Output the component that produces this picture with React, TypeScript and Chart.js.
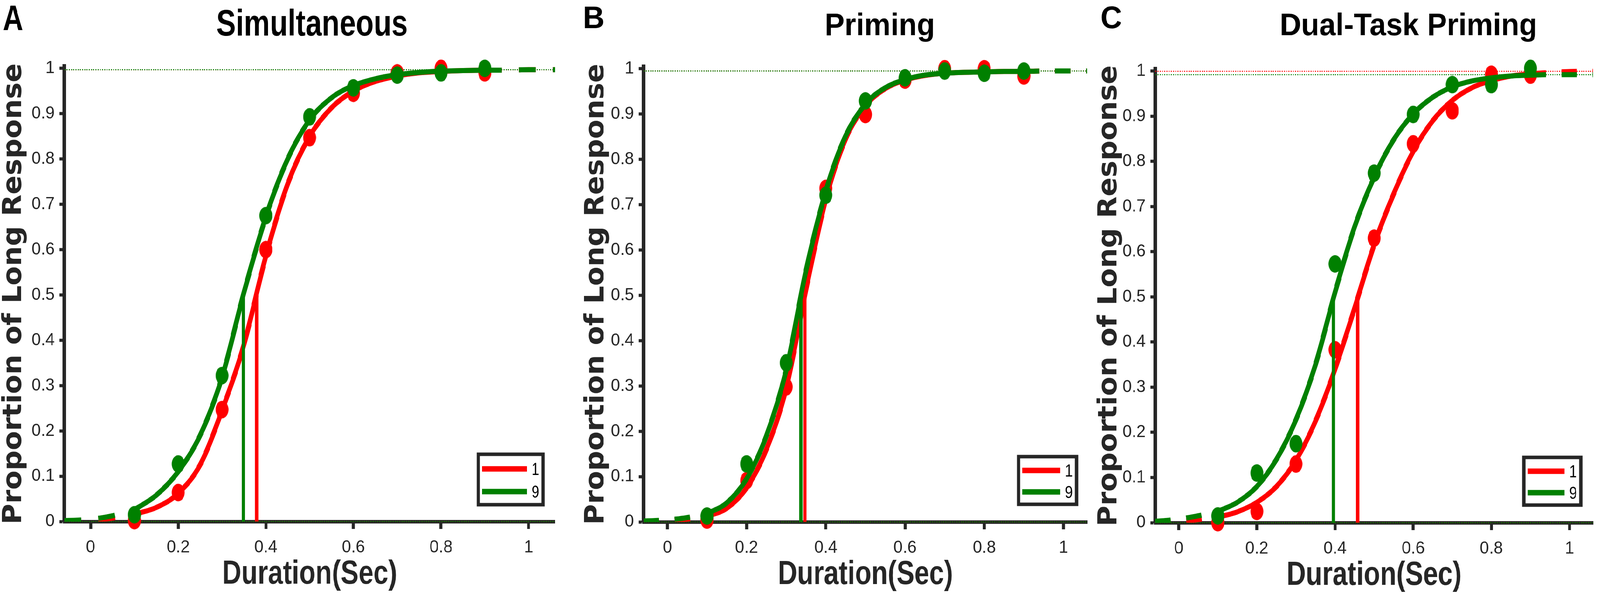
import React, { useEffect, useRef } from "react";
import { Chart, registerables } from "chart.js";

Chart.register(...registerables);

const SANS = "'Liberation Sans', Arial, Helvetica, sans-serif";
const WIDE = "'DejaVu Sans', Verdana, sans-serif";
const RED = "#ff0000";
const GREEN = "#008000";
const AXIS = "#262626";
const PAGE_W = 4328;
const CANVAS_H = 1545;

// ---- shared axes / labels ----
const xLimits = [-0.06, 1.06];
const yLimits = [0, 1.005];
const xTickValues = [0, 0.2, 0.4, 0.6, 0.8, 1];
const xTickLabels = ["0", "0.2", "0.4", "0.6", "0.8", "1"];
const yTickValues = [0, 0.1, 0.2, 0.3, 0.4, 0.5, 0.6, 0.7, 0.8, 0.9, 1];
const yTickLabels = ["0", "0.1", "0.2", "0.3", "0.4", "0.5", "0.6", "0.7", "0.8", "0.9", "1"];
const legendLabels = ["1", "9"];
const panelLetters = ["A", "B", "C"];
const panelTitles = ["Simultaneous", "Priming", "Dual-Task Priming"];
const xAxisTitle = "Duration(Sec)";
const yAxisTitle = "Proportion of Long Response";

// x positions
const durations = [0.1, 0.2, 0.3, 0.4, 0.5, 0.6, 0.7, 0.8, 0.9];
const fitX = [0.1, 0.15, 0.2, 0.25, 0.3, 0.35, 0.4, 0.45, 0.5, 0.55, 0.6, 0.65, 0.7, 0.75, 0.8, 0.85, 0.9];
const lowX = [-0.06, -0.03, 0, 0.03, 0.06, 0.1];
const highX = [0.9, 0.95, 1.0, 1.06];
const pseSpan = [0, 0.5];
const floorLevel = [0, 0];

// ---- A: Simultaneous ----
const simRedObs = [0.002, 0.064, 0.247, 0.6, 0.847, 0.945, 0.99, 1.0, 0.99];
const simGreenObs = [0.015, 0.127, 0.322, 0.675, 0.893, 0.957, 0.985, 0.99, 1.0];
const simRedFit = [0.016, 0.031, 0.062, 0.125, 0.245, 0.39, 0.585, 0.745, 0.85, 0.913, 0.95, 0.971, 0.983, 0.99, 0.993, 0.995, 0.996];
const simGreenFit = [0.026, 0.058, 0.11, 0.19, 0.318, 0.505, 0.672, 0.8, 0.886, 0.935, 0.962, 0.977, 0.986, 0.991, 0.994, 0.995, 0.996];
const simRedLow = [0.001, 0.002, 0.003, 0.005, 0.009, 0.016];
const simGreenLow = [0.002, 0.003, 0.005, 0.009, 0.015, 0.026];
const simRedHigh = [0.996, 0.996, 0.997, 0.997];
const simGreenHigh = [0.996, 0.996, 0.997, 0.997];
const simPse = [0.379, 0.349];
const simTop = [0.997, 0.997];

// ---- B: Priming ----
const primRedObs = [0.004, 0.091, 0.298, 0.736, 0.899, 0.975, 1.0, 1.0, 0.984];
const primGreenObs = [0.013, 0.128, 0.351, 0.721, 0.929, 0.98, 0.995, 0.99, 0.995];
const primRedFit = [0.012, 0.03, 0.075, 0.16, 0.295, 0.513, 0.712, 0.845, 0.918, 0.956, 0.975, 0.985, 0.99, 0.992, 0.993, 0.994, 0.994];
const primGreenFit = [0.018, 0.042, 0.095, 0.19, 0.335, 0.555, 0.73, 0.852, 0.922, 0.958, 0.976, 0.986, 0.99, 0.992, 0.993, 0.994, 0.994];
const primRedLow = [0.001, 0.002, 0.003, 0.005, 0.007, 0.012];
const primGreenLow = [0.002, 0.003, 0.005, 0.007, 0.011, 0.018];
const primRedHigh = [0.994, 0.995, 0.995, 0.995];
const primGreenHigh = [0.994, 0.995, 0.995, 0.995];
const primPse = [0.347, 0.337];
const primTop = [0.995, 0.995];

// ---- C: Dual-Task Priming ----
const dualRedObs = [0.0, 0.025, 0.13, 0.383, 0.63, 0.839, 0.912, 0.993, 0.991];
const dualGreenObs = [0.015, 0.11, 0.175, 0.573, 0.774, 0.904, 0.97, 0.97, 1.006];
const dualRedFit = [0.012, 0.024, 0.045, 0.08, 0.138, 0.225, 0.34, 0.475, 0.615, 0.728, 0.822, 0.89, 0.935, 0.963, 0.979, 0.989, 0.994];
const dualGreenFit = [0.025, 0.045, 0.08, 0.14, 0.228, 0.35, 0.51, 0.655, 0.765, 0.848, 0.905, 0.942, 0.965, 0.978, 0.985, 0.989, 0.991];
const dualRedLow = [0.001, 0.002, 0.003, 0.005, 0.008, 0.012];
const dualGreenLow = [0.003, 0.005, 0.008, 0.012, 0.017, 0.025];
const dualRedHigh = [0.994, 0.997, 0.999, 0.9995];
const dualGreenHigh = [0.991, 0.992, 0.992, 0.992];
const dualPse = [0.458, 0.396];
const dualTop = [0.9995, 0.992];

interface Series {
  redObs: number[];
  greenObs: number[];
  redFit: number[];
  greenFit: number[];
  redLow: number[];
  greenLow: number[];
  redHigh: number[];
  greenHigh: number[];
  pse: number[];
  top: number[];
}

interface TextStyle {
  font: string;
  squeeze: number; // horizontal scale, < 1 gives a narrow face
}

interface PanelSpec {
  idx: number;
  left: number;
  width: number;
  yAxisWidth: number;
  plotRight: number;
  plotTop: number;
  plotBottom: number;
  yTitlePad: number;
  letterX: number;
  letterY: number;
  letterStyle: TextStyle;
  titleX: number;
  titleY: number;
  titleStyle: TextStyle;
  legend: { w: number; h: number; offR: number; offB: number };
  dash: number[];
  series: Series;
}

const narrowBold = (size: number): TextStyle => ({ font: `bold ${size}px ${SANS}`, squeeze: 0.84 });
const plainBold = (size: number): TextStyle => ({ font: `bold ${size}px ${SANS}`, squeeze: 1 });

const panels: PanelSpec[] = [
  {
    idx: 0, left: 0, width: 1540, yAxisWidth: 174, plotRight: 1501, plotTop: 169, plotBottom: 1334, yTitlePad: 2,
    letterX: 8, letterY: 77, letterStyle: narrowBold(90),
    titleX: 844, titleY: 91, titleStyle: narrowBold(94),
    legend: { w: 175, h: 129, offR: 32, offB: 43 }, dash: [46, 46],
    series: { redObs: simRedObs, greenObs: simGreenObs, redFit: simRedFit, greenFit: simGreenFit, redLow: simRedLow, greenLow: simGreenLow, redHigh: simRedHigh, greenHigh: simGreenHigh, pse: simPse, top: simTop },
  },
  {
    idx: 1, left: 1540, width: 1420, yAxisWidth: 201, plotRight: 1402, plotTop: 170, plotBottom: 1335, yTitlePad: 37,
    letterX: 37, letterY: 72, letterStyle: plainBold(80),
    titleX: 840, titleY: 90, titleStyle: plainBold(80),
    legend: { w: 157, h: 122, offR: 29, offB: 45 }, dash: [42, 42],
    series: { redObs: primRedObs, greenObs: primGreenObs, redFit: primRedFit, greenFit: primGreenFit, redLow: primRedLow, greenLow: primGreenLow, redHigh: primRedHigh, greenHigh: primGreenHigh, pse: primPse, top: primTop },
  },
  {
    idx: 2, left: 2960, width: 1368, yAxisWidth: 165, plotRight: 1362, plotTop: 176, plotBottom: 1337, yTitlePad: 5,
    letterX: 17, letterY: 72, letterStyle: plainBold(80),
    titleX: 850, titleY: 90, titleStyle: plainBold(80),
    legend: { w: 154, h: 122, offR: 33, offB: 45 }, dash: [42, 42],
    series: { redObs: dualRedObs, greenObs: dualGreenObs, redFit: dualRedFit, greenFit: dualGreenFit, redLow: dualRedLow, greenLow: dualGreenLow, redHigh: dualRedHigh, greenHigh: dualGreenHigh, pse: dualPse, top: dualTop },
  },
];

const pts = (xs: number[], ys: number[]) => xs.map((x, i) => ({ x, y: ys[i] }));

function makeDot(color: string) {
  const c = document.createElement("canvas");
  c.width = 36;
  c.height = 46;
  const g = c.getContext("2d")!;
  g.fillStyle = color;
  g.beginPath();
  g.ellipse(18, 23, 17.5, 22.5, 0, 0, Math.PI * 2);
  g.fill();
  return c;
}

function squeezedText(ctx: CanvasRenderingContext2D, text: string, x: number, y: number, font: string, squeeze: number, align: CanvasTextAlign) {
  ctx.save();
  ctx.translate(x, y);
  ctx.scale(squeeze, 1);
  ctx.font = font;
  ctx.textAlign = align;
  ctx.textBaseline = "alphabetic";
  ctx.fillText(text, 0, 0);
  ctx.restore();
}

const decorPlugin = {
  id: "decor",
  afterDraw(chart: any, _args: any, opts: any) {
    const ctx = chart.ctx as CanvasRenderingContext2D;
    const { left, right, bottom } = chart.chartArea;
    ctx.save();
    ctx.fillStyle = "#000";
    squeezedText(ctx, opts.letter, opts.letterX, opts.letterY, opts.letterFont, opts.letterSqueeze, "left");
    squeezedText(ctx, opts.title, opts.titleX, opts.titleY, opts.titleFont, opts.titleSqueeze, "center");
    ctx.fillStyle = AXIS;
    squeezedText(ctx, xAxisTitle, (left + right) / 2, bottom + 159, `bold 86px ${SANS}`, 0.84, "center");

    // legend box
    const lg = opts.legend;
    const bx = right - lg.offR - lg.w;
    const by = bottom - lg.offB - lg.h;
    ctx.fillStyle = "#fff";
    ctx.fillRect(bx, by, lg.w, lg.h);
    ctx.lineWidth = 9;
    ctx.strokeStyle = AXIS;
    ctx.strokeRect(bx, by, lg.w, lg.h);
    const colors = [RED, GREEN];
    const rows = [0.29, 0.74];
    legendLabels.forEach((label, i) => {
      const y = by + lg.h * rows[i];
      ctx.fillStyle = colors[i];
      ctx.fillRect(bx + 10, y - 7, lg.w - 54, 14);
      ctx.fillStyle = "#000";
      squeezedText(ctx, label, bx + lg.w - 31, y + 16, `44px ${SANS}`, 0.84, "left");
    });
    ctx.restore();
  },
};

function buildConfig(spec: PanelSpec): any {
  const s = spec.series;
  const redDot = makeDot(RED);
  const greenDot = makeDot(GREEN);
  const line = (data: any[], color: string, extra: any = {}) => ({
    data,
    showLine: true,
    borderColor: color,
    backgroundColor: color,
    borderWidth: 13,
    pointRadius: 0,
    pointHoverRadius: 0,
    cubicInterpolationMode: "monotone",
    ...extra,
  });
  const dotted = (y: number, color: string) =>
    line(pts(xLimits, [y, y]), color, { borderWidth: 2.5, borderDash: [3, 3], clip: false, cubicInterpolationMode: "default" });
  const dots = (ys: number[], img: HTMLCanvasElement) => ({
    data: pts(durations, ys),
    showLine: false,
    pointStyle: img,
    pointRadius: 18,
    pointHoverRadius: 18,
    clip: false,
  });

  // listed bottom-to-top
  const layers: any[] = [
    dotted(s.top[0], RED),
    dotted(floorLevel[0], RED),
    dotted(s.top[1], GREEN),
    dotted(floorLevel[1], GREEN),
    line(pts(lowX, s.redLow), RED, { borderDash: spec.dash }),
    line(pts(highX, s.redHigh), RED, { borderDash: spec.dash }),
    line(pts(fitX, s.redFit), RED),
    line(pts([s.pse[0], s.pse[0]], pseSpan), RED, { borderWidth: 9, cubicInterpolationMode: "default", tension: 0 }),
    dots(s.redObs, redDot),
    line(pts(lowX, s.greenLow), GREEN, { borderDash: spec.dash }),
    line(pts(highX, s.greenHigh), GREEN, { borderDash: spec.dash }),
    line(pts(fitX, s.greenFit), GREEN),
    line(pts([s.pse[1], s.pse[1]], pseSpan), GREEN, { borderWidth: 9, cubicInterpolationMode: "default", tension: 0 }),
    dots(s.greenObs, greenDot),
  ];
  const datasets = layers.map((d, i) => ({ ...d, order: layers.length - i }));

  return {
    type: "scatter",
    data: { datasets },
    plugins: [decorPlugin],
    options: {
      animation: false,
      responsive: false,
      devicePixelRatio: 1,
      events: [],
      layout: { padding: { left: 0, top: spec.plotTop, right: spec.width - spec.plotRight, bottom: 0 } },
      plugins: {
        legend: { display: false },
        tooltip: { enabled: false },
        decor: {
          letter: panelLetters[spec.idx],
          letterX: spec.letterX,
          letterY: spec.letterY,
          letterFont: spec.letterStyle.font,
          letterSqueeze: spec.letterStyle.squeeze,
          title: panelTitles[spec.idx],
          titleX: spec.titleX,
          titleY: spec.titleY,
          titleFont: spec.titleStyle.font,
          titleSqueeze: spec.titleStyle.squeeze,
          legend: spec.legend,
        },
      },
      scales: {
        x: {
          type: "linear",
          min: xLimits[0],
          max: xLimits[1],
          afterBuildTicks: (scale: any) => {
            scale.ticks = xTickValues.map((value) => ({ value }));
          },
          afterFit: (scale: any) => {
            scale.height = CANVAS_H - spec.plotBottom;
          },
          ticks: {
            callback: (_v: any, i: number) => xTickLabels[i],
            color: AXIS,
            font: { family: SANS, size: 45 },
            padding: 21,
            maxRotation: 0,
            autoSkip: false,
          },
          grid: { drawOnChartArea: false, drawTicks: true, tickLength: 19, tickWidth: 8, tickColor: AXIS },
          border: { display: true, width: 9, color: AXIS },
          title: { display: false },
        },
        y: {
          type: "linear",
          min: yLimits[0],
          max: yLimits[1],
          afterBuildTicks: (scale: any) => {
            scale.ticks = yTickValues.map((value) => ({ value }));
          },
          afterFit: (scale: any) => {
            scale.width = spec.yAxisWidth;
          },
          ticks: {
            callback: (_v: any, i: number) => yTickLabels[i],
            color: AXIS,
            font: { family: SANS, size: 45 },
            padding: 13,
            autoSkip: false,
          },
          grid: { drawOnChartArea: false, drawTicks: true, tickLength: 13, tickWidth: 8, tickColor: AXIS },
          border: { display: true, width: 10, color: AXIS },
          title: {
            display: true,
            text: yAxisTitle,
            color: AXIS,
            font: { family: WIDE, size: 72, weight: "bold", lineHeight: 1 },
            padding: { top: spec.yTitlePad, bottom: 0 },
          },
        },
      },
    },
  };
}

const Panel: React.FC<{ spec: PanelSpec }> = ({ spec }) => {
  const chartRef = useRef<HTMLCanvasElement | null>(null);

  useEffect(() => {
    if (!chartRef.current) return;
    const chart = new Chart(chartRef.current, buildConfig(spec));
    return () => {
      chart.destroy();
    };
  }, [spec]);

  return (
    <canvas
      ref={chartRef}
      width={spec.width}
      height={CANVAS_H}
      style={{ position: "absolute", left: spec.left, top: 0, width: spec.width, height: CANVAS_H }}
    />
  );
};

export default function App() {
  // the figure is laid out at 4328x1545 and stretched to fill the viewport we actually get
  const sx = document.documentElement.clientWidth / PAGE_W;
  const sy = document.documentElement.clientHeight / CANVAS_H;
  return (
    <div style={{ position: "fixed", left: 0, top: 0, width: "100vw", height: "100vh", background: "#fff", overflow: "hidden" }}>
      <div
        style={{
          position: "absolute",
          left: 0,
          top: 0,
          width: PAGE_W,
          height: CANVAS_H,
          transform: `scale(${sx}, ${sy})`,
          transformOrigin: "0 0",
        }}
      >
        {panels.map((p) => (
          <Panel key={p.idx} spec={p} />
        ))}
      </div>
    </div>
  );
}
